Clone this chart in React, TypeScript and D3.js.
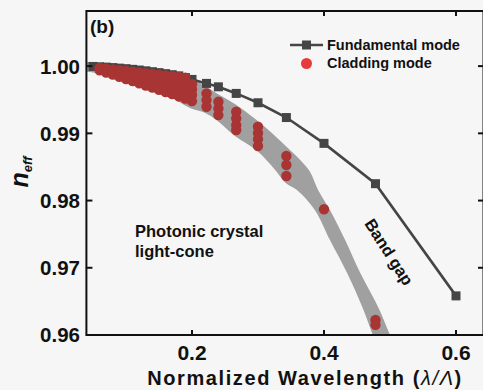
import { useEffect, useRef } from 'react';
import * as d3 from 'd3';

const W = 483;
const H = 390;

// fundamental mode (squares + line)
const fundX = [0.05, 0.06, 0.07, 0.08, 0.09, 0.1, 0.11, 0.12, 0.13, 0.14, 0.15, 0.16, 0.17, 0.18, 0.19, 0.2, 0.222, 0.24, 0.267, 0.3, 0.343, 0.4, 0.478, 0.6];
const fundN = [0.99995, 0.9999, 0.99985, 0.99978, 0.9997, 0.99962, 0.99952, 0.99942, 0.9993, 0.99917, 0.99903, 0.99888, 0.99872, 0.99855, 0.9983, 0.99802, 0.99743, 0.99692, 0.99594, 0.99455, 0.99235, 0.98851, 0.98251, 0.96582];

// cladding modes, one column of n_eff values per wavelength
const cladX = [0.06, 0.07, 0.08, 0.09, 0.1, 0.11, 0.12, 0.13, 0.14, 0.15, 0.16, 0.17, 0.18, 0.19, 0.2, 0.222, 0.24, 0.267, 0.3, 0.343, 0.4, 0.478];
const cladN = [
  [0.99973, 0.99938],
  [0.99963, 0.99905],
  [0.99951, 0.99874],
  [0.99941, 0.9989, 0.99841],
  [0.99929, 0.9987, 0.99808],
  [0.99918, 0.99848, 0.99777],
  [0.99906, 0.99825, 0.99744],
  [0.99896, 0.99804, 0.99712],
  [0.99884, 0.99782, 0.9968],
  [0.99874, 0.998, 0.99725, 0.99648],
  [0.99862, 0.9978, 0.99697, 0.99615],
  [0.99851, 0.99762, 0.99673, 0.99584],
  [0.99839, 0.99743, 0.99646, 0.99549],
  [0.99829, 0.99725, 0.99621, 0.99517],
  [0.99732, 0.99652, 0.99572, 0.9948],
  [0.99594, 0.99495, 0.99395],
  [0.9947, 0.99371, 0.99272],
  [0.99321, 0.99223, 0.99123, 0.99049],
  [0.99098, 0.99005, 0.98915, 0.98811],
  [0.98663, 0.98529, 0.98366],
  [0.97871],
  [0.96225, 0.96151],
];

// photonic crystal light-cone (gray band)
const coneUpperX = [0.04, 0.106, 0.152, 0.189, 0.22, 0.239, 0.265, 0.296, 0.321, 0.342, 0.364, 0.379, 0.391, 0.409, 0.432, 0.455, 0.482, 0.5, 0.512];
const coneUpperN = [1.0006, 1.0, 0.99941, 0.99851, 0.99703, 0.99584, 0.99435, 0.99212, 0.99004, 0.98812, 0.98603, 0.98425, 0.98157, 0.9786, 0.97413, 0.96922, 0.96417, 0.96, 0.95747];
const coneLowerX = [0.04, 0.055, 0.112, 0.162, 0.197, 0.22, 0.239, 0.265, 0.299, 0.326, 0.342, 0.359, 0.386, 0.409, 0.435, 0.458, 0.474, 0.485];
const coneLowerN = [0.99911, 0.99896, 0.99762, 0.99569, 0.99376, 0.99302, 0.99183, 0.9896, 0.98737, 0.98455, 0.98261, 0.98157, 0.9786, 0.97413, 0.96922, 0.96417, 0.96, 0.95747];

const xTicks = [0.2, 0.4, 0.6];
const yTicks = [0.96, 0.97, 0.98, 0.99, 1.0];

const FONT = '"Liberation Sans", Arial, sans-serif';

function Chart() {
  const svgRef = useRef<SVGSVGElement>(null);

  useEffect(() => {
    if (!svgRef.current) return;
    const svg = d3.select(svgRef.current);
    svg.selectAll('*').remove();

    const x = d3.scaleLinear().domain([0.04, 0.64]).range([86.4, 482.4]);
    const y = d3.scaleLinear().domain([0.96, 1.0082]).range([335, 11]);
    const [x0, x1] = [86.4, 483.5];
    const [y0, y1] = [335, 11];

    svg.append('rect').attr('width', W).attr('height', H).attr('fill', '#f6f6f6');

    svg.append('clipPath').attr('id', 'plot-clip')
      .append('rect').attr('x', x0).attr('y', y1).attr('width', x1 - x0).attr('height', y0 - y1);

    const plot = svg.append('g').attr('clip-path', 'url(#plot-clip)');

    // light cone band
    const upper = coneUpperX.map((v, i) => [x(v), y(coneUpperN[i])] as [number, number]);
    const lower = coneLowerX.map((v, i) => [x(v), y(coneLowerN[i])] as [number, number]);
    const edge = d3.line().curve(d3.curveCatmullRom);
    const bandPath = edge(upper) + 'L' + (edge(lower.slice().reverse()) as string).slice(1) + 'Z';
    plot.append('path').attr('d', bandPath).attr('fill', '#a0a0a0');

    // fundamental mode
    const fund = fundX.map((v, i) => [x(v), y(fundN[i])] as [number, number]);
    plot.append('path')
      .attr('d', d3.line()(fund))
      .attr('fill', 'none')
      .attr('stroke', '#454545')
      .attr('stroke-width', 2.6);
    plot.selectAll('rect.fm')
      .data(fund)
      .join('rect')
      .attr('class', 'fm')
      .attr('x', (d) => d[0] - 4.5)
      .attr('y', (d) => d[1] - 4.5)
      .attr('width', 9)
      .attr('height', 9)
      .attr('fill', '#454545');

    // cladding modes
    const clad = cladX.flatMap((v, i) => cladN[i].map((n) => [x(v), y(n)] as [number, number]));
    plot.selectAll('circle.cm')
      .data(clad)
      .join('circle')
      .attr('class', 'cm')
      .attr('cx', (d) => d[0])
      .attr('cy', (d) => d[1])
      .attr('r', 5.2)
      .attr('fill', '#a83434');

    // frame (right spine sits just past the picture edge)
    svg.append('rect')
      .attr('x', x0).attr('y', y1)
      .attr('width', x1 - x0).attr('height', y0 - y1)
      .attr('fill', 'none').attr('stroke', '#111').attr('stroke-width', 2);

    // ticks (inward) on all sides
    xTicks.forEach((t) => {
      svg.append('line').attr('x1', x(t)).attr('x2', x(t)).attr('y1', y0).attr('y2', y0 - 5)
        .attr('stroke', '#111').attr('stroke-width', 2);
      svg.append('line').attr('x1', x(t)).attr('x2', x(t)).attr('y1', y1).attr('y2', y1 + 5)
        .attr('stroke', '#111').attr('stroke-width', 2);
      svg.append('text').attr('x', x(t)).attr('y', 360)
        .attr('text-anchor', 'middle')
        .style('font-family', FONT).style('font-size', '21px').style('font-weight', 'bold')
        .attr('fill', '#111')
        .text(d3.format('.1f')(t));
    });
    yTicks.forEach((t) => {
      svg.append('line').attr('x1', x0).attr('x2', x0 + 6).attr('y1', y(t)).attr('y2', y(t))
        .attr('stroke', '#111').attr('stroke-width', 2);
      svg.append('line').attr('x1', W).attr('x2', W - 5).attr('y1', y(t)).attr('y2', y(t))
        .attr('stroke', '#111').attr('stroke-width', 2);
      svg.append('text').attr('x', 80).attr('y', y(t)).attr('dy', '0.36em')
        .attr('text-anchor', 'end')
        .style('font-family', FONT).style('font-size', '20.5px').style('font-weight', 'bold')
        .attr('fill', '#111')
        .text(d3.format('.2f')(t));
    });

    // axis titles
    const xt = svg.append('text').attr('x', 305).attr('y', 385)
      .attr('text-anchor', 'middle')
      .style('font-family', FONT).style('font-size', '20px').style('font-weight', 'bold')
      .style('letter-spacing', '1.6px')
      .attr('fill', '#111');
    xt.append('tspan').text('Normalized Wavelength (');
    xt.append('tspan').style('font-style', 'italic').style('font-weight', 'normal').text('λ/Λ');
    xt.append('tspan').text(')');

    const yt = svg.append('text')
      .attr('transform', 'translate(28,172) rotate(-90)')
      .attr('text-anchor', 'middle')
      .style('font-family', FONT).style('font-weight', 'bold').style('font-style', 'italic')
      .attr('fill', '#111');
    yt.append('tspan').style('font-size', '25px').text('n');
    yt.append('tspan').style('font-size', '13px').attr('dy', 4).text('eff');

    // panel label
    svg.append('text').attr('x', 90).attr('y', 33)
      .style('font-family', FONT).style('font-size', '19px').style('font-weight', 'bold')
      .attr('fill', '#111').text('(b)');

    // legend
    svg.append('line').attr('x1', 290).attr('x2', 323).attr('y1', 45).attr('y2', 45)
      .attr('stroke', '#454545').attr('stroke-width', 2.6);
    svg.append('rect').attr('x', 302).attr('y', 40.5).attr('width', 9).attr('height', 9).attr('fill', '#454545');
    svg.append('circle').attr('cx', 306.5).attr('cy', 63.5).attr('r', 5.5).attr('fill', '#e53b3b');
    svg.append('text').attr('x', 327).attr('y', 50)
      .style('font-family', FONT).style('font-size', '14.5px').style('font-weight', 'bold')
      .attr('fill', '#111').text('Fundamental mode');
    svg.append('text').attr('x', 327).attr('y', 68)
      .style('font-family', FONT).style('font-size', '14.5px').style('font-weight', 'bold')
      .attr('fill', '#111').text('Cladding mode');

    // annotations
    svg.append('text').attr('x', 135).attr('y', 237)
      .style('font-family', FONT).style('font-size', '16.5px').style('font-weight', 'bold')
      .attr('fill', '#111').text('Photonic crystal');
    svg.append('text').attr('x', 135).attr('y', 257)
      .style('font-family', FONT).style('font-size', '16.5px').style('font-weight', 'bold')
      .attr('fill', '#111').text('light-cone');
    svg.append('text')
      .attr('transform', 'translate(389,252) rotate(57.5)')
      .attr('text-anchor', 'middle').attr('dy', '0.35em')
      .style('font-family', FONT).style('font-size', '16.5px').style('font-weight', 'bold')
      .attr('fill', '#111').text('Band gap');
  }, []);

  return <svg ref={svgRef} width={W} height={H} style={{ position: 'absolute', left: 0, top: 0 }} />;
}

export default function App() {
  return <Chart />;
}
